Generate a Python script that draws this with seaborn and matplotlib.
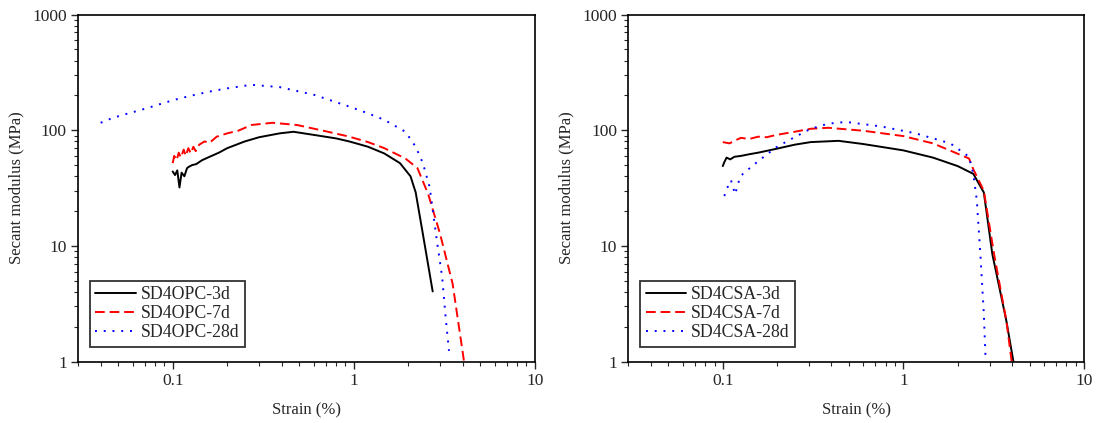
import matplotlib
matplotlib.use("Agg")
import matplotlib.pyplot as plt
import matplotlib.ticker as mticker
import seaborn as sns

sns.set_theme(style="ticks")
plt.rcParams.update({'font.family': ['Liberation Serif', 'DejaVu Serif'], 'font.size': 12,
                     'mathtext.fontset': 'stix'})

# ---- OPC panel (strain %, secant modulus MPa) ----
opc3_x = [0.100, 0.103, 0.106, 0.109, 0.112, 0.116, 0.120, 0.122, 0.128, 0.135, 0.145, 0.16,
          0.18, 0.20, 0.25, 0.30, 0.39, 0.465, 0.606, 0.80, 0.946, 1.20, 1.476, 1.80, 2.06,
          2.20, 2.41, 2.73]
opc3_y = [44, 41, 45, 32, 43, 40, 47, 48, 50, 51, 55, 59, 64, 70, 80, 87, 94, 97, 91, 85, 80,
          72, 63, 52, 40, 29, 12.7, 4.05]

opc7_x = [0.100, 0.102, 0.105, 0.108, 0.111, 0.115, 0.118, 0.122, 0.126, 0.130, 0.134, 0.14,
          0.15, 0.16, 0.175, 0.20, 0.23, 0.272, 0.356, 0.486, 0.70, 0.946, 1.20, 1.476, 1.93,
          2.25, 2.58, 3.00, 3.52, 4.07]
opc7_y = [52, 60, 55, 64, 58, 68, 60, 70, 63, 72, 66, 75, 80, 78, 88, 94, 99, 111, 116, 111,
          98, 88, 79, 70, 57, 47, 28, 12.7, 4.7, 1.0]

opc28_x = [0.040, 0.045, 0.050, 0.057, 0.065, 0.075, 0.087, 0.102, 0.125, 0.160, 0.20, 0.272,
           0.389, 0.606, 0.946, 1.20, 1.476, 1.93, 2.20, 2.41, 2.63, 2.75, 2.88, 3.08, 3.22,
           3.36]
opc28_y = [116, 125, 132, 140, 148, 158, 170, 183, 198, 216, 230, 247, 236, 202, 160, 140, 123,
           97, 72, 52, 32, 19, 11.1, 5.4, 2.41, 1.24]

# ---- CSA panel ----
csa3_x = [0.100, 0.102, 0.105, 0.110, 0.116, 0.126, 0.140, 0.157, 0.197, 0.25, 0.307, 0.438,
          0.60, 1.00, 1.46, 2.00, 2.44, 2.79, 3.11, 3.72, 4.07]
csa3_y = [49, 53, 58, 56, 59, 60, 62, 64, 69, 75, 79, 81, 76, 67, 58, 49, 42, 29, 8.5, 2.25, 1.0]

csa7_x = [0.100, 0.109, 0.118, 0.126, 0.140, 0.157, 0.175, 0.197, 0.25, 0.307, 0.384, 0.60,
          1.00, 1.46, 2.31, 2.44, 2.79, 3.18, 3.72, 3.98]
csa7_y = [79, 77, 82, 86, 84, 88, 87, 91, 97, 103, 105, 99, 89, 77, 57, 46, 30, 8.5, 2.25, 1.0]

csa28_x = [0.102, 0.107, 0.111, 0.117, 0.125, 0.134, 0.157, 0.197, 0.246, 0.307, 0.384, 0.48,
           0.75, 1.17, 1.82, 2.31, 2.44, 2.55, 2.67, 2.79, 2.85]
csa28_y = [27, 33, 37, 28, 40, 44, 54, 71, 86, 103, 114, 118, 108, 94, 77, 59, 42, 25, 8.5,
           2.6, 1.1]

opc_series = [("SD4OPC-3d", opc3_x, opc3_y), ("SD4OPC-7d", opc7_x, opc7_y),
              ("SD4OPC-28d", opc28_x, opc28_y)]
csa_series = [("SD4CSA-3d", csa3_x, csa3_y), ("SD4CSA-7d", csa7_x, csa7_y),
              ("SD4CSA-28d", csa28_x, csa28_y)]

styles = [dict(color="black", linestyle="-"),
          dict(color="red", linestyle=(0, (5, 2.5))),
          dict(color="blue", linestyle=(0, (1, 3.5)))]

fig = plt.figure(figsize=(10.96, 4.23), dpi=100)
ax1 = fig.add_axes([0.0712, 0.1449, 0.4167, 0.8208])
ax2 = fig.add_axes([0.5733, 0.1449, 0.4157, 0.8208])


def draw_panel(ax, series):
    for (name, xs, ys), st in zip(series, styles):
        sns.lineplot(x=xs, y=ys, ax=ax, sort=False, estimator=None, label=name,
                     linewidth=1.4, **st)
    ax.set_xscale("log")
    ax.set_yscale("log")
    ax.set_xlim(0.03, 10)
    ax.set_ylim(1, 1000)
    ax.xaxis.set_major_formatter(mticker.FuncFormatter(lambda v, p: f"{v:g}"))
    ax.yaxis.set_major_formatter(mticker.FuncFormatter(lambda v, p: f"{v:g}"))
    ax.xaxis.set_minor_locator(mticker.LogLocator(base=10, subs=range(2, 10)))
    ax.yaxis.set_minor_locator(mticker.LogLocator(base=10, subs=range(2, 10)))
    ax.xaxis.set_minor_formatter(mticker.NullFormatter())
    ax.yaxis.set_minor_formatter(mticker.NullFormatter())
    ax.tick_params(which="major", direction="out", length=5, width=1, labelsize=12.5,
                   top=False, right=False, pad=3)
    ax.tick_params(which="minor", direction="out", length=3, width=0.8, top=False, right=False)
    for sp in ax.spines.values():
        sp.set_visible(True)
        sp.set_color("black")
        sp.set_linewidth(1.2)
    ax.set_xlabel("Strain (%)", fontsize=12, labelpad=10)
    ax.set_ylabel("Secant modulus (MPa)", fontsize=12, labelpad=6)
    leg = ax.legend(loc="lower left", bbox_to_anchor=(0.026, 0.043), borderaxespad=0,
                    frameon=True, fancybox=False, edgecolor="black", fontsize=12.8,
                    handlelength=2.3, handletextpad=0.25, borderpad=0.3, labelspacing=0.12)
    leg.get_frame().set_linewidth(1.3)


draw_panel(ax1, opc_series)
draw_panel(ax2, csa_series)

fig.savefig("out.png", dpi=100)
